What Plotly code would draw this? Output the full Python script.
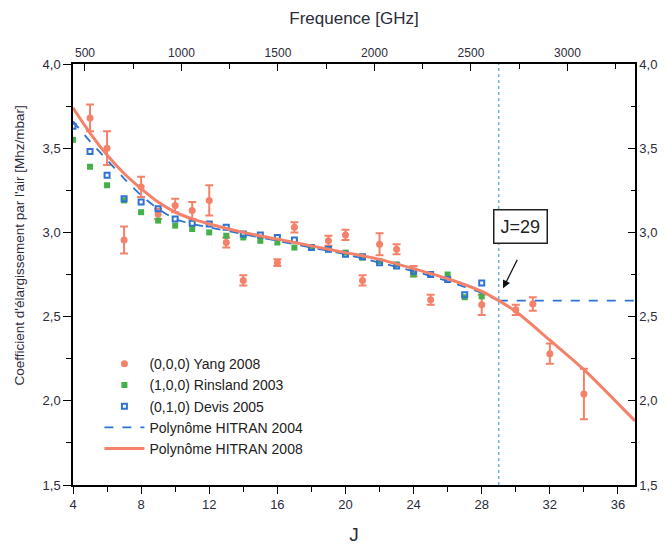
import plotly.graph_objects as go

# ---- data ----
yang_J = [5, 6, 7, 8, 9, 10, 11, 12, 13, 14, 16, 17, 19, 20, 21, 22, 23, 24, 25, 28, 30, 31, 32, 34]
yang_v = [3.68, 3.50, 2.955, 3.27, 3.11, 3.16, 3.13, 3.19, 2.94, 2.715, 2.82, 3.03, 2.95, 2.985,
          2.715, 2.93, 2.90, 2.77, 2.60, 2.57, 2.54, 2.575, 2.28, 2.04]
yang_err = [0.08, 0.10, 0.08, 0.06, 0.03, 0.04, 0.05, 0.09, 0.03, 0.03, 0.02, 0.03, 0.03, 0.03,
            0.03, 0.065, 0.03, 0.03, 0.03, 0.06, 0.03, 0.04, 0.06, 0.15]

rins_J = [4, 5, 6, 7, 8, 9, 10, 11, 12, 13, 14, 15, 16, 17, 18, 19, 20, 21, 22, 23, 24, 26, 27, 28]
rins_v = [3.55, 3.39, 3.28, 3.19, 3.12, 3.07, 3.04, 3.02, 3.00, 2.98, 2.97, 2.95, 2.94, 2.91,
          2.91, 2.90, 2.88, 2.85, 2.83, 2.81, 2.75, 2.75, 2.615, 2.62]

devis_J = [4, 5, 6, 7, 8, 9, 10, 11, 12, 13, 14, 15, 16, 17, 18, 19, 20, 21, 22, 23, 24, 25, 26, 27, 28]
devis_v = [3.63, 3.48, 3.34, 3.20, 3.18, 3.14, 3.08, 3.055, 3.05, 3.03, 2.99, 2.985, 2.97, 2.955,
           2.91, 2.90, 2.87, 2.855, 2.82, 2.80, 2.77, 2.75, 2.72, 2.63, 2.70]

# HITRAN 2004 polynomial (up to J=29) then constant value
hit04_J = [4, 5, 6, 7, 8, 9, 10, 11, 12, 14, 16, 18, 20, 22, 24, 26, 28, 29]
hit04_v = [3.66, 3.54, 3.43, 3.32, 3.22, 3.14, 3.08, 3.05, 3.03, 2.99, 2.95, 2.91, 2.87, 2.82,
           2.77, 2.71, 2.64, 2.595]
hit04_flat_J = [29, 37]
hit04_flat_v = [2.595, 2.595]

hit08_J = [4, 5, 6, 7, 8, 9, 10, 11, 12, 14, 16, 18, 20, 22, 24, 26, 28, 29, 30, 32, 34, 37]
hit08_v = [3.74, 3.59, 3.46, 3.35, 3.26, 3.18, 3.12, 3.08, 3.05, 3.00, 2.96, 2.92, 2.88, 2.84,
           2.785, 2.725, 2.65, 2.595, 2.53, 2.36, 2.185, 1.88]

y_tickvals = [1.5, 2.0, 2.5, 3.0, 3.5, 4.0]
y_ticktext = ["1,5", "2,0", "2,5", "3,0", "3,5", "4,0"]
x_tickvals = [4, 8, 12, 16, 20, 24, 28, 32, 36]
f_tickvals = [500, 1000, 1500, 2000, 2500, 3000]
J_mark = 29

# ---- styles ----
SALMON = "#f4826a"
GREEN = "#44b04a"
BLUE = "#2f72d0"
TXT = "#2b2b3a"
FONT = "Liberation Sans"

fig = go.Figure()

fig.add_trace(go.Scatter(
    x=yang_J, y=yang_v, mode="markers", name="(0,0,0) Yang 2008",
    marker=dict(color=SALMON, size=7, symbol="circle"),
    error_y=dict(type="data", array=yang_err, color=SALMON, thickness=2, width=4),
))
fig.add_trace(go.Scatter(
    x=rins_J, y=rins_v, mode="markers", name="(1,0,0) Rinsland 2003",
    marker=dict(color=GREEN, size=6, symbol="square"),
))
fig.add_trace(go.Scatter(
    x=devis_J, y=devis_v, mode="markers", name="(0,1,0) Devis 2005",
    marker=dict(color=BLUE, size=5, symbol="square-open", line=dict(color=BLUE, width=2)),
))
fig.add_trace(go.Scatter(
    x=hit04_J, y=hit04_v, mode="lines", name="Polynôme HITRAN 2004", legendgroup="h04",
    line=dict(color=BLUE, width=1.8, dash="dash", shape="spline", smoothing=0.8),
))
fig.add_trace(go.Scatter(
    x=hit04_flat_J, y=hit04_flat_v, mode="lines", legendgroup="h04", showlegend=False,
    line=dict(color=BLUE, width=1.8, dash="dash"),
))
fig.add_trace(go.Scatter(
    x=hit08_J, y=hit08_v, mode="lines", name="Polynôme HITRAN 2008",
    line=dict(color=SALMON, width=3, shape="spline", smoothing=0.8),
))
# invisible traces to anchor the top frequency axis and the right value axis
fig.add_trace(go.Scatter(x=[500, 3000], y=[None, None], xaxis="x2", showlegend=False,
                         mode="markers", hoverinfo="skip"))
fig.add_trace(go.Scatter(x=[None], y=[None], yaxis="y2", showlegend=False, hoverinfo="skip"))

fig.add_vline(x=J_mark, line=dict(color="#5aaad0", width=1.3, dash="dot"))

axis_common = dict(showline=True, linecolor="black", linewidth=1.5, showgrid=False,
                   zeroline=False, tickcolor="black",
                   tickfont=dict(family=FONT, size=13, color=TXT))

fig.update_layout(
    width=669, height=554,
    margin=dict(l=73, r=34, t=64, b=64),
    paper_bgcolor="white", plot_bgcolor="white",
    font=dict(family=FONT, color=TXT),
    showlegend=True,
    legend=dict(x=0.047, y=0.325, xanchor="left", yanchor="top",
                bgcolor="rgba(0,0,0,0)", font=dict(family=FONT, size=14, color="#222"),
                tracegroupgap=0, itemwidth=40),
    xaxis=dict(range=[4, 37], tickvals=x_tickvals, ticks="outside", ticklen=7,
               minor=dict(dtick=2, ticks="outside", ticklen=5, tickcolor="black", tick0=4),
               title=dict(text="J", font=dict(family=FONT, size=19, color=TXT), standoff=16),
               **axis_common),
    xaxis2=dict(range=[438, 3350], overlaying="x", side="top", tickvals=f_tickvals,
                ticks="inside", ticklen=7,
                minor=dict(dtick=250, ticks="inside", ticklen=5, tickcolor="black", tick0=500),
                title=dict(text="Frequence [GHz]", font=dict(family=FONT, size=17, color=TXT),
                           standoff=18),
                **{**axis_common, "tickfont": dict(family=FONT, size=12, color=TXT)}),
    yaxis=dict(range=[1.5, 4.0], tickvals=y_tickvals, ticktext=y_ticktext,
               ticks="outside", ticklen=8,
               minor=dict(dtick=0.25, ticks="outside", ticklen=5, tickcolor="black", tick0=1.5),
               **axis_common),
    yaxis2=dict(range=[1.5, 4.0], overlaying="y", side="right", tickvals=y_tickvals,
                ticktext=y_ticktext, ticks="inside", ticklen=7,
                minor=dict(dtick=0.25, ticks="inside", ticklen=4, tickcolor="black", tick0=1.5),
                **axis_common),
)

# y-axis title (placed as in the reference, slightly above the plot centre)
fig.add_annotation(xref="paper", yref="paper", x=-0.095, y=0.568, xanchor="center",
                   yanchor="middle", textangle=-90, showarrow=False,
                   text="Coefficient d'élargissement par l'air [Mhz/mbar]",
                   font=dict(family=FONT, size=13.5, color=TXT))

fig.add_annotation(xref="paper", yref="paper", x=0.845, y=0.615, text="J=29",
                   showarrow=False, font=dict(family=FONT, size=18, color="#222"),
                   bordercolor="#222", borderwidth=1.5, borderpad=6, bgcolor="white")
fig.add_annotation(x=29.25, y=2.668, xref="x", yref="y", ax=15, ay=-30, text="",
                   showarrow=True, arrowhead=2, arrowsize=1.2, arrowwidth=1.3,
                   arrowcolor="#111")

fig.write_html("out.html")
